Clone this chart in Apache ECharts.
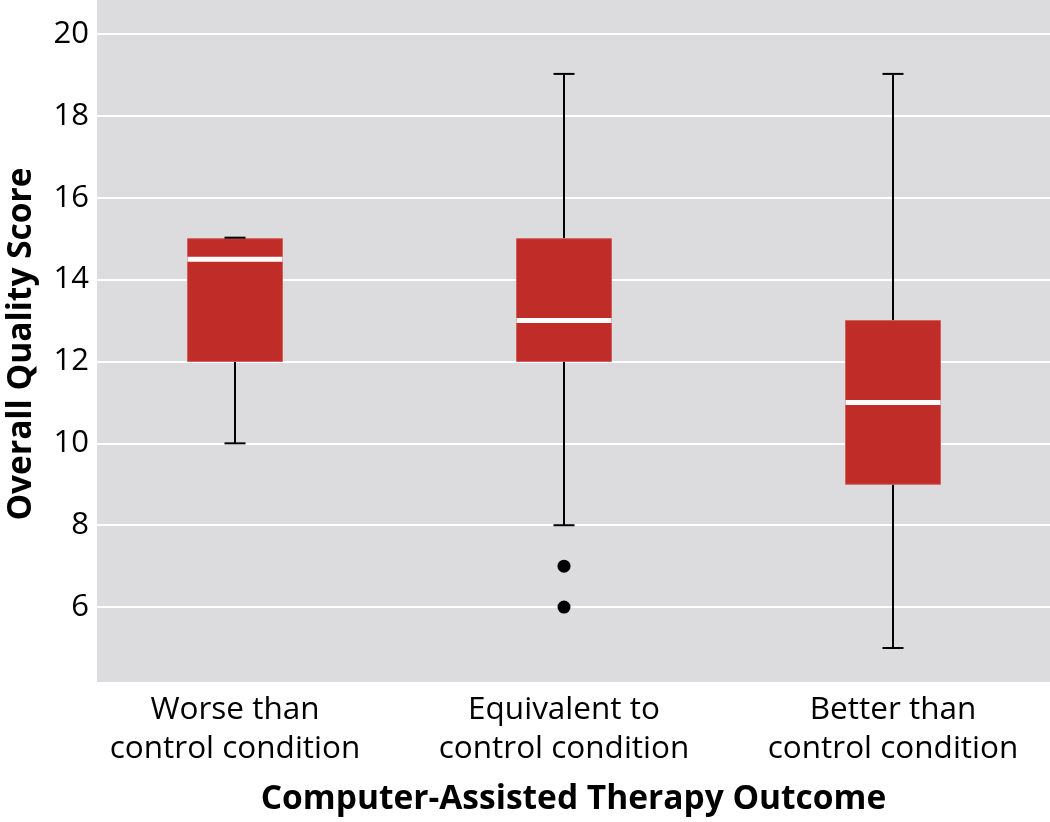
<!DOCTYPE html>
<html>
<head>
<meta charset="utf-8">
<script src="https://cdn.jsdelivr.net/npm/echarts@6/dist/echarts.min.js"></script>
<style>
html,body{margin:0;padding:0;background:#fff;overflow:hidden;}
#chart{width:1050px;height:822px;}
</style>
</head>
<body>
<div id="chart"></div>
<script>
// ---- data ----
var categories = ['Worse than\ncontrol condition', 'Equivalent to\ncontrol condition', 'Better than\ncontrol condition'];
var lowWhisker  = [10, 8, 5];
var q1          = [12, 12, 9];
var median      = [14.5, 13, 11];
var q3          = [15, 15, 13];
var highWhisker = [15, 19, 19];
var outliers    = [[1, 7], [1, 6]]; // [category index, value]

var yMin = 4.17, yMax = 20.83;
var FONT = '"Open Sans", "Noto Sans", sans-serif';

var boxData = categories.map(function (c, i) {
  return [i, lowWhisker[i], q1[i], median[i], q3[i], highWhisker[i]];
});

function renderBox(params, api) {
  var x = api.value(0);
  var pLow = api.coord([x, api.value(1)]);
  var pQ1 = api.coord([x, api.value(2)]);
  var pMed = api.coord([x, api.value(3)]);
  var pQ3 = api.coord([x, api.value(4)]);
  var pHigh = api.coord([x, api.value(5)]);
  var cx = pLow[0];
  var halfW = 47.5;
  var capHalf = 10.5;
  var lineStyle = { stroke: '#000', lineWidth: 2 };
  return {
    type: 'group',
    children: [
      { type: 'line', shape: { x1: cx, y1: pLow[1], x2: cx, y2: pQ1[1] }, style: lineStyle },
      { type: 'line', shape: { x1: cx, y1: pQ3[1], x2: cx, y2: pHigh[1] }, style: lineStyle },
      { type: 'rect', shape: { x: cx - halfW, y: pQ3[1], width: halfW * 2, height: pQ1[1] - pQ3[1] },
        style: { fill: '#c02d28', stroke: '#d0605c', lineWidth: 1 } },
      { type: 'line', shape: { x1: cx - halfW, y1: pMed[1], x2: cx + halfW, y2: pMed[1] },
        style: { stroke: '#ffffff', lineWidth: 5 } },
      { type: 'line', shape: { x1: cx - capHalf, y1: pLow[1], x2: cx + capHalf, y2: pLow[1] }, style: lineStyle },
      { type: 'line', shape: { x1: cx - capHalf, y1: pHigh[1] - 1, x2: cx + capHalf, y2: pHigh[1] - 1 }, style: lineStyle }
    ]
  };
}

var chart = echarts.init(document.getElementById('chart'), null, { renderer: 'canvas' });
chart.setOption({
  animation: false,
  backgroundColor: '#ffffff',
  grid: [
    { left: 70.5, width: 987, top: 0, bottom: 140, show: false, containLabel: false, outerBoundsMode: 'none' },
    { left: 97, right: 0, top: 0, bottom: 140, show: true, backgroundColor: '#dcdcde', borderWidth: 0, containLabel: false, outerBoundsMode: 'none' }
  ],
  xAxis: [
    {
      type: 'category', gridIndex: 0, data: categories, boundaryGap: true,
      axisLine: { show: false }, axisTick: { show: false },
      axisLabel: { fontFamily: FONT, fontSize: 31.5, color: '#000', lineHeight: 39, margin: 9 }
    },
    {
      type: 'value', gridIndex: 1, min: 0, max: 1,
      axisLine: { show: false }, axisTick: { show: false }, axisLabel: { show: false }, splitLine: { show: false },
      name: 'Computer-Assisted Therapy Outcome', nameLocation: 'middle', nameGap: 100,
      nameTextStyle: { fontFamily: FONT, fontSize: 33.5, fontWeight: 'bold', color: '#000' }
    }
  ],
  yAxis: [
    {
      type: 'value', gridIndex: 0, min: yMin, max: yMax, splitNumber: 8,
      axisLine: { show: false }, axisTick: { show: false }, axisLabel: { show: false },
      splitLine: { show: true, showMinLine: false, showMaxLine: false, lineStyle: { color: '#ffffff', width: 2 } }
    },
    {
      type: 'value', gridIndex: 1, min: yMin, max: yMax, splitNumber: 8,
      axisLine: { show: false }, axisTick: { show: false }, splitLine: { show: false },
      axisLabel: { fontFamily: FONT, fontSize: 31, color: '#000', margin: 8, showMinLabel: false, showMaxLabel: false },
      name: 'Overall Quality Score', nameLocation: 'middle', nameGap: 59, nameRotate: 90,
      nameTextStyle: { fontFamily: FONT, fontSize: 33.5, fontWeight: 'bold', color: '#000', padding: [0, 6, 0, 0] }
    }
  ],
  series: [
    {
      type: 'custom', xAxisIndex: 0, yAxisIndex: 0, data: boxData,
      encode: { x: 0, y: [1, 2, 3, 4, 5] }, renderItem: renderBox, z: 3
    },
    {
      type: 'scatter', xAxisIndex: 0, yAxisIndex: 0, data: outliers,
      symbol: 'circle', symbolSize: 13, itemStyle: { color: '#000', opacity: 1 }, z: 4
    }
  ]
});
</script>
</body>
</html>
